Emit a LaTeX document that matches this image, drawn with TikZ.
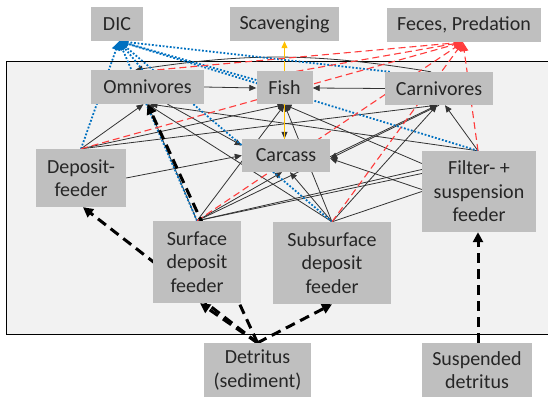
\documentclass[tikz,border=0pt]{standalone}
\usepackage{fontspec}
\setmainfont{Carlito}
\usetikzlibrary{arrows.meta,calc}
\pgfdeclarelayer{bg}
\pgfdeclarelayer{lines}
\pgfsetlayers{bg,lines,main}
\definecolor{boxgray}{RGB}{191,191,191}
\definecolor{panelgray}{RGB}{242,242,242}
\definecolor{dicblue}{RGB}{0,112,192}
\definecolor{fecred}{RGB}{255,60,60}
\definecolor{scavyellow}{RGB}{255,192,0}
\begin{document}
\begin{tikzpicture}[x=1pt,y=-1pt,
  box/.style={fill=boxgray, inner sep=0pt, align=center, font=\fontsize{20}{23.5}\selectfont, text=black!85},
  blk/.style={draw=black!80, line width=0.8pt, -{Triangle[length=7pt,width=6pt]}},
  blu/.style={draw=dicblue, line width=1.8pt, dash pattern=on 1.8pt off 1.8pt, -{Triangle[length=9pt,width=8pt]}},
  fec/.style={draw=fecred, line width=1.1pt, dash pattern=on 7pt off 4pt, -{Triangle[length=9pt,width=8pt]}},
  thk/.style={draw=black, line width=3pt, dash pattern=on 10pt off 6pt, -{Triangle[length=10pt,width=10pt]}},
  ln/.style={draw=black!80, line width=0.8pt}
]
\useasboundingbox (0,0) rectangle (548,401);
\begin{pgfonlayer}{bg}
\draw[fill=panelgray, line width=1pt] (6,62) rectangle (570,334);
\end{pgfonlayer}

% nodes
\node[box, minimum width=52pt, minimum height=34pt] (DIC) at (117,24) {DIC};
\node[box, minimum width=109pt, minimum height=34pt] (Scav) at (284.5,24) {Scavenging};
\node[box, minimum width=154pt, minimum height=34pt] (Fec) at (464,25) {Feces, Predation};
\node[box, minimum width=113pt, minimum height=34pt] (Omni) at (147.5,87) {Omnivores};
\node[box, minimum width=56pt, minimum height=33pt] (Fish) at (284.5,88) {Fish};
\node[box, minimum width=108pt, minimum height=33pt] (Carn) at (439,88.5) {Carnivores};
\node[box, minimum width=88pt, minimum height=33pt] (Carc) at (286,155.5) {Carcass};
\node[box, minimum width=90pt, minimum height=58pt] (Dep) at (81,178) {Deposit-\\feeder};
\node[box, minimum width=114pt, minimum height=81pt] (Fil) at (479,191.5) {Filter- +\\suspension\\feeder};
\node[box, minimum width=88pt, minimum height=82pt] (Sur) at (197,262) {Surface\\deposit\\feeder};
\node[box, minimum width=118pt, minimum height=82pt] (Sub) at (332,263) {Subsurface\\deposit\\feeder};
\node[box, minimum width=107pt, minimum height=54pt] (Det) at (257.5,370) {Detritus\\(sediment)};
\node[box, minimum width=110pt, minimum height=54pt] (Sus) at (477,370) {Suspended\\detritus};

\begin{pgfonlayer}{lines}
% thin black feeding links
\draw[blk] (Omni.east) -- (Fish.west);
\draw[blk] (Carn.west) -- (Fish.east);
\draw[blk] ([xshift=-8pt]Carn.north) to[bend right=9] ([xshift=-12pt]Omni.north);
\draw[blk] (Fish.south) -- ([xshift=-1.5pt]Carc.north);
\draw[blk] (Dep.north) -- ([xshift=-4pt]Omni.south);
\draw[blk] (Dep.north) -- (Fish.south);
\draw[blk] (Dep.north) -- ([xshift=-2pt]Carn.south);
\draw[blk] (Dep.east) -- (Carc.west);
\draw[blk] (Sur.north) -- (Omni.south);
\draw[blk] (Sur.north) -- (Fish.south);
\draw[blk] (Sur.north) -- ([xshift=-2pt]Carn.south);
\draw[blk] (Sur.north) -- ([xshift=-4pt]Carc.south);
\draw[ln] (Sur.north) -- ([yshift=22pt]Fil.west);
\draw[ln] (Sur.north) -- ([yshift=18pt]Fil.west);
\draw[blk] (Sub.north) -- (Omni.south);
\draw[blk] (Sub.north) -- (Fish.south);
\draw[blk] (Sub.north) -- ([xshift=-2pt]Carn.south);
\draw[blk] (Sub.north) -- ([xshift=4pt]Carc.south);
\draw[ln] (Sub.north) -- ([yshift=0pt]Fil.west);
\draw[blk] ([xshift=-1pt]Fil.north) -- ([xshift=3pt]Omni.south);
\draw[blk] ([yshift=28pt]Fil.west) -- (Fish.south);
\draw[blk] ([xshift=-1pt]Fil.north) -- ([xshift=6pt]Carn.south);
\draw[blk] ([yshift=2pt]Fil.west) -- ([yshift=-3pt]Carc.east);
\draw[blk] (Carn.south) -- ([yshift=-3pt]Carc.east);
\draw[blk] ([xshift=20pt]Omni.south) -- ([yshift=10pt]Carc.west);
% scavenging
\draw[draw=scavyellow, line width=1.2pt, -{Triangle[length=7pt,width=6pt]}] ([xshift=-1.5pt]Carc.north) -- (Scav.south);
% respiration to DIC
\draw[blu] (Dep.north) -- ([xshift=2pt]DIC.south);
\draw[blu] ([xshift=-5pt]Omni.north) -- ([xshift=2pt]DIC.south);
\draw[blu] (Sur.north) -- ([xshift=2pt]DIC.south);
\draw[blu] (Sub.north) -- ([xshift=2pt]DIC.south);
\draw[blu] ([yshift=8pt]Fish.west) -- ([xshift=2pt]DIC.south);
\draw[blu] ([xshift=5pt]Carn.north west) -- ([xshift=2pt]DIC.south);
\draw[blu] ([xshift=-1pt]Fil.north) -- ([xshift=2pt]DIC.south);
% feces / predation
\draw[fec] (Dep.north) -- ([xshift=-1pt]Fec.south);
\draw[fec] ([xshift=10pt]Omni.north) -- ([xshift=-1pt]Fec.south);
\draw[fec] ([xshift=12pt]Fish.north) -- ([xshift=-1pt]Fec.south);
\draw[fec] (Sur.north) -- ([xshift=-1pt]Fec.south);
\draw[fec] (Sub.north) -- ([xshift=-1pt]Fec.south);
\draw[fec] ([xshift=-1pt]Fil.north) -- ([xshift=-1pt]Fec.south);
% detritus uptake
\draw[thk] (Det.north) -- ([xshift=2pt]Dep.south);
\draw[thk] (Det.north) -- ([xshift=3pt]Sur.south);
\draw[thk] (Det.north) -- (Omni.south);
\draw[thk] (Det.north) -- (Sub.south);
\draw[thk] ([xshift=1pt]Sus.north) -- ([xshift=-1pt]Fil.south);
\end{pgfonlayer}
\end{tikzpicture}
\end{document}
